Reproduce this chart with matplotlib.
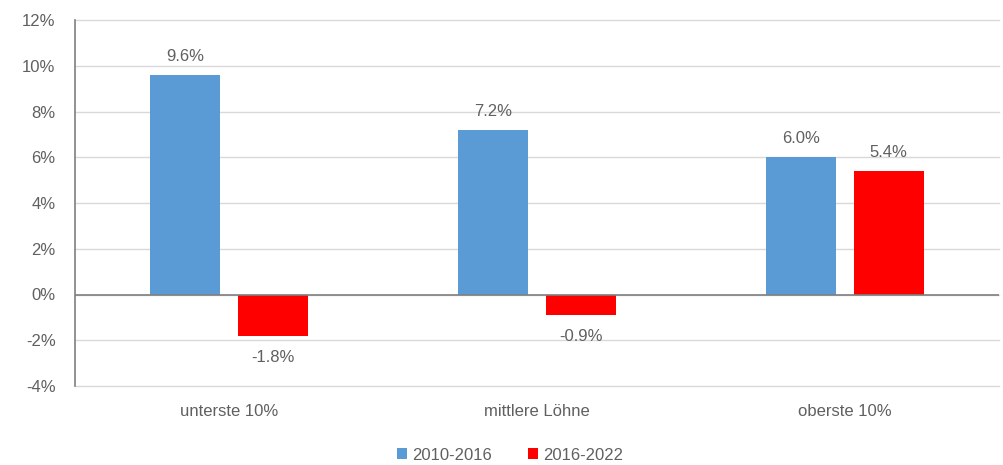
import matplotlib
matplotlib.use("Agg")
import matplotlib.pyplot as plt
import numpy as np
from matplotlib.ticker import FuncFormatter

categories = ["unterste 10%", "mittlere Löhne", "oberste 10%"]
series_names = ["2010-2016", "2016-2022"]
values_2010_2016 = [9.6, 7.2, 6.0]
values_2016_2022 = [-1.8, -0.9, 5.4]
yticks = [-4, -2, 0, 2, 4, 6, 8, 10, 12]

colors = ["#5B9BD5", "#FF0000"]
text_color = "#606060"
fs = 12

plt.rcParams['font.family'] = ['Liberation Sans', 'DejaVu Sans']

fig = plt.figure(figsize=(10.04, 4.65), dpi=100)
ax = fig.add_axes([75/1004, 1 - 386/465, 924/1004, 366/465])

x = np.arange(len(categories))
w = 0.227
off = 0.142
b1 = ax.bar(x - off, values_2010_2016, w, color=colors[0], label=series_names[0], zorder=3)
b2 = ax.bar(x + off, values_2016_2022, w, color=colors[1], label=series_names[1], zorder=3)

for bars, vals in ((b1, values_2010_2016), (b2, values_2016_2022)):
    for rect, v in zip(bars, vals):
        cx = rect.get_x() + rect.get_width() / 2
        if v >= 0:
            ax.annotate(f"{v:.1f}%", (cx, v), xytext=(0, 8), textcoords="offset points",
                        ha="center", va="bottom", fontsize=fs, color=text_color)
        else:
            ax.annotate(f"{v:.1f}%", (cx, v), xytext=(0, -10), textcoords="offset points",
                        ha="center", va="top", fontsize=fs, color=text_color)

ax.set_xlim(-0.5, len(categories) - 0.5)
ax.set_ylim(yticks[0], yticks[-1])
ax.set_yticks(yticks)
ax.yaxis.set_major_formatter(FuncFormatter(lambda v, p: f"{v:.0f}%"))
ax.set_xticks(x)
ax.set_xticklabels(categories)
ax.tick_params(axis="both", length=0, labelsize=fs, colors=text_color)
ax.tick_params(axis="x", pad=13)
ax.tick_params(axis="y", pad=14)

ax.grid(axis="y", color="#D9D9D9", linewidth=1, zorder=0)
for gl in ax.get_ygridlines():
    gl.set_clip_on(False)
ax.set_axisbelow(True)
ax.axhline(0, color="#7F7F7F", linewidth=1.2, zorder=4)
for s in ["top", "right", "bottom"]:
    ax.spines[s].set_visible(False)
ax.spines["left"].set_color("#7F7F7F")
ax.spines["left"].set_linewidth(1.2)

leg = fig.legend(handles=[b1, b2], labels=series_names, loc="center",
                 bbox_to_anchor=(510/1004, 1 - 455/465), ncol=2, frameon=False,
                 fontsize=fs, handlelength=0.6, handleheight=0.6,
                 handletextpad=0.3, columnspacing=2.2, labelcolor=text_color)

fig.savefig("out.png", dpi=100)
